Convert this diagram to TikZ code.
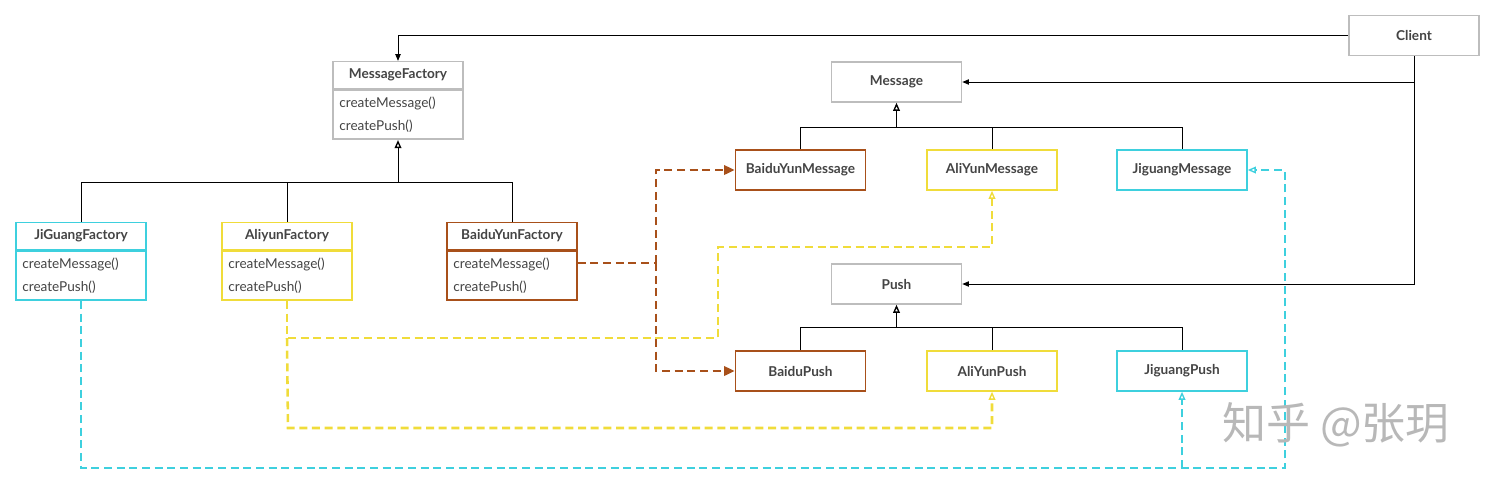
\documentclass[tikz,border=0pt]{standalone}
\usepackage{fontspec}
\setmainfont{Lato}
\newfontfamily\cjk{Noto Sans CJK SC}
\usetikzlibrary{arrows.meta}
\definecolor{boxgray}{HTML}{BDBDBD}
\definecolor{txtgray}{HTML}{444444}
\definecolor{baidu}{HTML}{A8501A}
\definecolor{aliyun}{HTML}{F0DC3A}
\definecolor{jiguang}{HTML}{3ED0DE}
\tikzset{
  cls/.style={draw=boxgray, line width=1.2pt, fill=white, inner sep=0pt,
    minimum width=97.5pt, minimum height=30pt, text=txtgray,
    font=\fontsize{10.2}{12}\selectfont\bfseries},
  head/.style={cls, minimum height=20pt},
  body/.style={cls, anchor=north, minimum height=37pt, text width=88pt,
    inner xsep=4.75pt, align=left, font=\fontsize{10.2}{17}\selectfont},
  assoc/.style={line width=0.6pt, -{Triangle[length=5pt,width=4pt]}},
  inherit/.style={line width=0.6pt},
  dsh/.style={line width=1.9pt, dash pattern=on 6pt off 3.5pt},
  realize/.style={-{Triangle[open,length=6pt,width=5pt,line width=1pt]}}
}
\begin{document}
\begin{tikzpicture}[x=0.75pt, y=-0.75pt, line join=miter]
\useasboundingbox (0,0) rectangle (1495,487);
% 客户端
\node[cls] (client) at (1414,35.5) {Client};
% 抽象工厂
\node[head] (mf) at (398,75) {MessageFactory};
\node[body] (mfb) at (mf.south) {createMessage()\\createPush()};
% 产品接口
\node[cls] (msg) at (896.5,82) {Message};
\node[cls] (push) at (896.5,284) {Push};
% 具体工厂
\node[head, draw=jiguang] (jgf) at (81,236) {JiGuangFactory};
\node[body, draw=jiguang] (jgfb) at (jgf.south) {createMessage()\\createPush()};
\node[head, draw=aliyun] (alf) at (287,236) {AliyunFactory};
\node[body, draw=aliyun] (alfb) at (alf.south) {createMessage()\\createPush()};
\node[head, draw=baidu] (bdf) at (512,236) {BaiduYunFactory};
\node[body, draw=baidu] (bdfb) at (bdf.south) {createMessage()\\createPush()};
% 具体产品
\node[cls, draw=baidu] (bdm) at (800.5,170) {BaiduYunMessage};
\node[cls, draw=aliyun] (alm) at (992,170) {AliYunMessage};
\node[cls, draw=jiguang] (jgm) at (1182,170) {JiguangMessage};
\node[cls, draw=baidu] (bdp) at (800.5,371) {BaiduPush};
\node[cls, draw=aliyun] (alp) at (992,371) {AliYunPush};
\node[cls, draw=jiguang] (jgp) at (1182,371) {JiguangPush};

% Client 的关联
\draw[assoc] (client.west) -| (mf.north);
\draw[assoc] (client.south) |- (msg.east);
\draw[assoc] (client.south) |- (push.east);

% 继承
\coordinate (facbar) at (0,182);
\draw[inherit] (jgf.north) |- (facbar -| bdf.north) -- (bdf.north);
\draw[inherit] (alf.north) -- (alf.north |- facbar);
\draw[inherit, realize] (mfb.south |- facbar) -- (mfb.south);
\coordinate (msgbar) at (0,127);
\draw[inherit] (bdm.north) |- (msgbar -| jgm.north) -- (jgm.north);
\draw[inherit] (alm.north) -- (alm.north |- msgbar);
\draw[inherit, realize] (msg.south |- msgbar) -- (msg.south);
\coordinate (pushbar) at (0,327);
\draw[inherit] (bdp.north) |- (pushbar -| jgp.north) -- (jgp.north);
\draw[inherit] (alp.north) -- (alp.north |- pushbar);
\draw[inherit, realize] (push.south |- pushbar) -- (push.south);

% 百度云
\coordinate (bdturn) at (656,263);
\draw[dsh, draw=baidu] (bdfb.east |- bdturn) -- (bdturn);
\draw[dsh, draw=baidu, -{Triangle[length=8pt,width=7pt]}, baidu] (bdturn) |- (bdm.west);
\draw[dsh, draw=baidu, -{Triangle[length=8pt,width=7pt]}, baidu] (bdturn) |- (bdp.west);

% 阿里云
\coordinate (al1) at (718,338);
\coordinate (al2) at (718,247);
\coordinate (al3) at (288,428);
\draw[dsh, aliyun, realize] (alfb.south) |- (al1) -- (al2) -| (alm.south);
\draw[dsh, aliyun, realize] (alfb.south |- al1) -- (al3) -| (alp.south);

% 极光
\coordinate (jg1) at (1285,468);
\draw[dsh, jiguang, realize] (jgfb.south) |- (jg1) |- (jgm.east);
\draw[dsh, jiguang, realize] (jgp.south |- jg1) -- (jgp.south);

% 水印
\node[text=black!28, font=\cjk\fontsize{33}{33}\selectfont] (wm) at (1336,425) {知乎 @张玥};
\end{tikzpicture}
\end{document}
